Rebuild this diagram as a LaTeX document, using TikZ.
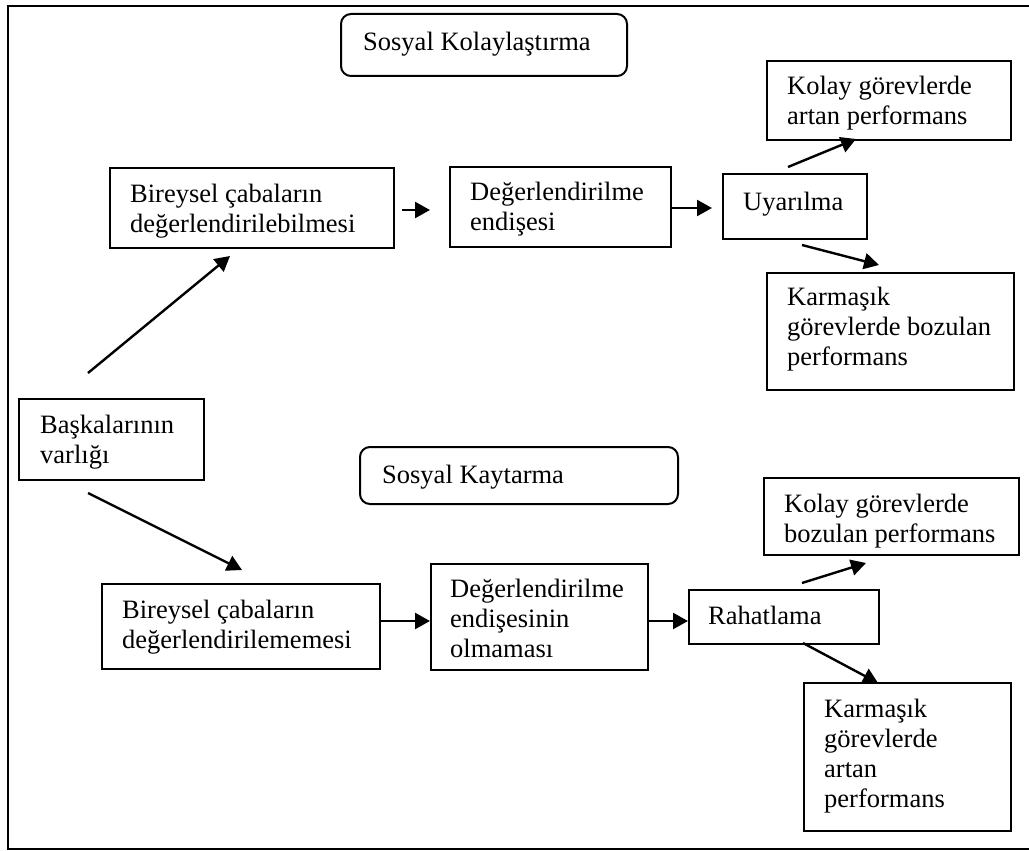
\documentclass[tikz,border=0pt]{standalone}
\usepackage{fontspec}
\setmainfont{Liberation Serif}
\usetikzlibrary{arrows.meta}
\tikzset{
  box/.style={draw, line width=2pt, inner sep=0pt, anchor=north west},
  rbox/.style={box, rounded corners=10pt},
  txt/.style={anchor=base west, inner sep=0pt, font=\fontsize{26.5}{30}\selectfont},
  arr/.style={line width=2.4pt, -{Triangle[length=15pt,width=16pt]}}
}
\newcommand{\lines}[1]{\begin{tabular}[t]{@{}l@{}}#1\end{tabular}}
\begin{document}
\begin{tikzpicture}[x=1pt,y=-1pt]
\useasboundingbox (0,0) rectangle (1029,851);
% outer frame
\draw[line width=2.2pt] (8,6) rectangle (1034,849);

% boxes
\node[rbox, minimum width=286pt, minimum height=62pt] (sk) at (340,13) {};
\node[txt] (tsk) at (363,51) {Sosyal Kolaylaştırma};

\node[box, minimum width=284pt, minimum height=80pt] (b1) at (109,167) {};
\node[txt] (tb1) at (130,202) {\lines{Bireysel çabaların\\değerlendirilebilmesi}};

\node[box, minimum width=221pt, minimum height=80pt] (d1) at (449,166) {};
\node[txt] (td1) at (470,200) {\lines{Değerlendirilme\\endişesi}};

\node[box, minimum width=144pt, minimum height=65pt] (u) at (722,173) {};
\node[txt] (tu) at (743,210) {Uyarılma};

\node[box, minimum width=244pt, minimum height=79pt] (k1) at (766,60) {};
\node[txt] (tk1) at (787,95) {\lines{Kolay görevlerde\\artan performans}};

\node[box, minimum width=247pt, minimum height=117pt] (km1) at (766,272) {};
\node[txt] (tkm1) at (787,305) {\lines{Karmaşık\\görevlerde bozulan\\performans}};

\node[box, minimum width=185pt, minimum height=81pt] (bv) at (18,398) {};
\node[txt] (tbv) at (40,433) {\lines{Başkalarının\\varlığı}};

\node[rbox, minimum width=318pt, minimum height=57pt] (skt) at (359,446) {};
\node[txt] (tskt) at (382,483) {Sosyal Kaytarma};

\node[box, minimum width=278pt, minimum height=85pt] (b2) at (101,583) {};
\node[txt] (tb2) at (122,618) {\lines{Bireysel çabaların\\değerlendirilememesi}};

\node[box, minimum width=217pt, minimum height=106pt] (d2) at (430,563) {};
\node[txt] (td2) at (450,597) {\lines{Değerlendirilme\\endişesinin\\olmaması}};

\node[box, minimum width=190pt, minimum height=54pt] (r) at (688,589) {};
\node[txt] (tr) at (708,624) {Rahatlama};

\node[box, minimum width=255pt, minimum height=77pt] (k2) at (763,477) {};
\node[txt] (tk2) at (784,512) {\lines{Kolay görevlerde\\bozulan performans}};

\node[box, minimum width=207pt, minimum height=148pt] (km2) at (803,682) {};
\node[txt] (tkm2) at (824,717) {\lines{Karmaşık\\görevlerde\\artan\\performans}};

% connector end points
\coordinate (a1s) at (88,373);  \coordinate (a1e) at (230,256);
\coordinate (a2s) at (88,493);  \coordinate (a2e) at (242,570);
\coordinate (a3s) at (402,210); \coordinate (a3e) at (430,210);
\coordinate (a4s) at (670,208); \coordinate (a4e) at (712,208);
\coordinate (a5s) at (788,167); \coordinate (a5e) at (856,139);
\coordinate (a6s) at (802,245); \coordinate (a6e) at (879,265);
\coordinate (a7s) at (379,621); \coordinate (a7e) at (430,621);
\coordinate (a8s) at (647,621); \coordinate (a8e) at (688,621);
\coordinate (a9s) at (802,583); \coordinate (a9e) at (866,563);
\coordinate (a10s) at (803,643); \coordinate (a10e) at (878,683);

\draw[arr] (a1s) -- (a1e);
\draw[arr] (a2s) -- (a2e);
\draw[arr] (a3s) -- (a3e);
\draw[arr] (a4s) -- (a4e);
\draw[arr] (a5s) -- (a5e);
\draw[arr] (a6s) -- (a6e);
\draw[arr] (a7s) -- (a7e);
\draw[arr] (a8s) -- (a8e);
\draw[arr] (a9s) -- (a9e);
\draw[arr] (a10s) -- (a10e);
\end{tikzpicture}
\end{document}
